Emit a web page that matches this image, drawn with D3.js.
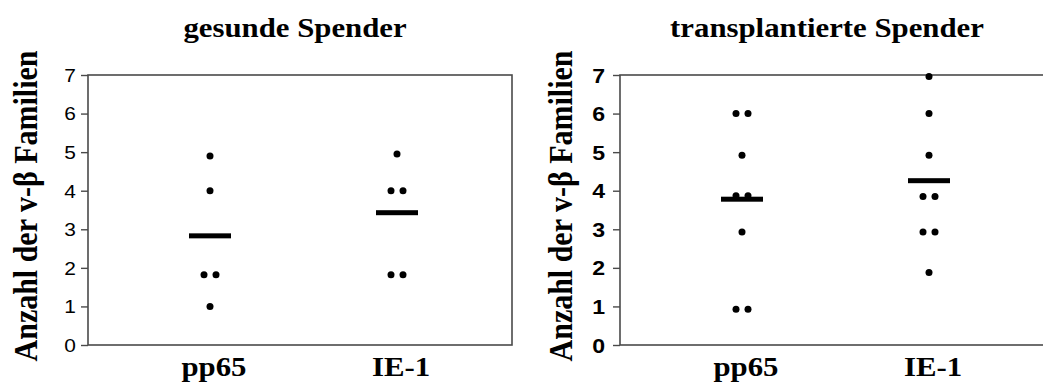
<!DOCTYPE html>
<html>
<head>
<meta charset="utf-8">
<script src="https://cdn.jsdelivr.net/npm/d3@7"></script>
<style>
  body { margin: 0; background: #fff; }
  svg { display: block; }
</style>
</head>
<body>
<div class="chart"></div>
<script>
// categories and values
var categories = ["pp65", "IE-1"];
var yTicks = [0, 1, 2, 3, 4, 5, 6, 7];
var axisLabel = "Anzahl der v-\u03B2 Familien";

var healthyTitle = "gesunde Spender";
var healthyPp65 = [4.9, 4.0, 1.82, 1.82, 1.0];
var healthyIe1 = [4.95, 4.0, 4.0, 1.82, 1.82];
var healthyMeans = [2.83, 3.43];

var transplantTitle = "transplantierte Spender";
var transplantPp65 = [6.0, 6.0, 4.92, 3.87, 3.87, 2.93, 0.93, 0.93];
var transplantIe1 = [6.96, 6.0, 4.92, 3.85, 3.85, 2.93, 2.93, 1.88];
var transplantMeans = [3.78, 4.26];

var W = 1043, H = 383;
var stretch = 1.1; // the source image is a little widened horizontally
var serif = "'Liberation Serif', 'Times New Roman', Times, serif";
var sans = "'Liberation Sans', Arial, Helvetica, sans-serif";

var svg = d3.select(".chart")
    .append("svg")
    .attr("width", W)
    .attr("height", H);

function addText(g, txt, x, y, opts) {
    return g.append("text")
        .attr("transform", "translate(" + x + "," + y + ")" + (opts.rotate ? " rotate(-90)" : "") +
              (opts.rotate ? " scale(1," + stretch + ")" : " scale(" + stretch + ",1)"))
        .attr("text-anchor", opts.anchor || "middle")
        .style("font-family", opts.family)
        .style("font-weight", opts.weight || "bold")
        .style("font-size", opts.size + "px")
        .style("fill", "#000")
        .text(txt);
}

function drawPanel(cfg) {
    var width = 424, height = 270;
    var g = svg.append("g")
        .attr("transform", "translate(" + cfg.left + "," + cfg.top + ")");

    var x = d3.scalePoint().domain(categories).range([122, 309]);
    var y = d3.scaleLinear().domain([0, 7]).range([height, 0]);

    // frame
    g.append("rect")
        .attr("width", width)
        .attr("height", height)
        .attr("fill", "none")
        .attr("stroke", "#4a4a4a")
        .attr("stroke-width", 1.6);

    // y ticks
    var yAxis = d3.axisLeft(y).tickValues(yTicks).tickSize(7).tickFormat(d3.format("d"));
    var ax = g.append("g").attr("class", "y axis").call(yAxis);
    ax.select(".domain").remove();
    ax.selectAll(".tick line").attr("stroke", "#4a4a4a").attr("stroke-width", 1.4);
    ax.selectAll(".tick text").remove();
    yTicks.forEach(function(t) {
        addText(g, t, -cfg.tickGap, y(t) + cfg.tickSize * 0.36,
            {anchor: "end", family: sans, weight: cfg.tickWeight, size: cfg.tickSize});
    });

    // dots, spreading equal values side by side
    cfg.series.forEach(function(vals, i) {
        var groups = d3.group(vals, function(v) { return v; });
        var pts = [];
        groups.forEach(function(arr, v) {
            arr.forEach(function(d, j) {
                pts.push({v: v, off: (j - (arr.length - 1) / 2) * 12});
            });
        });
        g.selectAll(".dot" + i)
            .data(pts)
            .enter().append("circle")
            .attr("cx", function(d) { return x(categories[i]) + d.off; })
            .attr("cy", function(d) { return y(d.v); })
            .attr("r", 3.5)
            .attr("fill", "#000");
    });

    // mean bars
    g.selectAll(".mean")
        .data(cfg.means)
        .enter().append("rect")
        .attr("x", function(d, i) { return x(categories[i]) - 21; })
        .attr("y", function(d) { return y(d) - 2.5; })
        .attr("width", 42)
        .attr("height", 5)
        .attr("fill", "#000");

    // category labels
    categories.forEach(function(c) {
        addText(g, c, x(c) + 4, height + 31, {family: serif, size: 28});
    });

    // title
    addText(g, cfg.title, width / 2 - 5, -38, {family: serif, size: 28});

    // y axis label
    addText(g, axisLabel, -cfg.labelGap, height / 2 - 4,
        {rotate: true, family: serif, size: 30});
}

drawPanel({left: 88, top: 75, title: healthyTitle, series: [healthyPp65, healthyIe1],
           means: healthyMeans, tickGap: 12, tickSize: 19, tickWeight: "normal", labelGap: 51});
drawPanel({left: 620, top: 75, title: transplantTitle, series: [transplantPp65, transplantIe1],
           means: transplantMeans, tickGap: 15, tickSize: 21, tickWeight: "bold", labelGap: 48});
</script>
</body>
</html>
